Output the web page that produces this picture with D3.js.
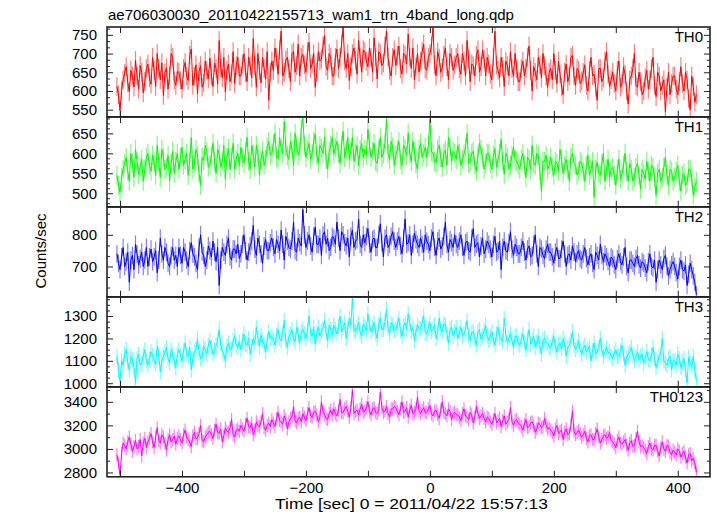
<!DOCTYPE html>
<html><head><meta charset="utf-8">
<script src="https://cdn.jsdelivr.net/npm/d3@7"></script>
<style>body{margin:0;background:#fff} text{font-family:"Liberation Sans",Arial,Helvetica,sans-serif}</style>
</head><body><svg id="c" width="717" height="516"></svg>
<script>
const chartTitle = "ae706030030_20110422155713_wam1_trn_4band_long.qdp";
const xTitle = "Time [sec] 0 = 2011/04/22 15:57:13";
const yTitle = "Counts/sec";
const panelLabels = ["TH0", "TH1", "TH2", "TH3", "TH0123"];
const colors = ["#ff0000", "#00ff00", "#0000ff", "#00ffff", "#ff00ff"];
const tStart = -505, tStep = 2.5;

const th0 = [612,590,548,601,630,648,665,622,598,655,640,610,682,640,605,668,650,595,625,660,
672,635,618,690,655,612,700,660,630,675,588,648,662,605,641,700,690,628,615,652,
650,628,605,660,676,640,628,695,712,615,640,670,593,652,668,610,622,680,655,632,
688,640,612,675,660,618,735,662,635,690,598,655,672,625,645,705,620,668,690,640,
640,672,700,650,625,690,668,635,740,668,610,700,655,622,690,660,632,705,575,650,
680,655,715,690,645,710,760,640,650,682,690,660,625,700,705,650,668,725,640,690,
698,670,650,705,730,660,672,700,610,650,705,680,685,720,748,665,655,700,690,640,
640,690,712,660,690,725,770,680,660,700,628,665,700,715,682,645,735,690,650,710,
705,680,665,715,690,650,742,690,632,705,700,668,675,720,760,690,655,640,690,710,
668,695,720,660,645,700,695,672,752,690,660,715,630,665,700,650,680,705,725,660,
655,690,700,720,770,670,640,705,688,650,662,695,715,665,630,700,690,655,670,690,
700,660,645,700,680,640,735,685,625,672,668,640,695,710,650,665,710,685,640,690,
672,645,630,690,760,670,655,635,690,665,612,680,668,640,705,660,640,700,660,625,
625,660,680,640,660,690,720,655,600,665,650,630,690,670,635,700,668,640,610,650,
660,630,700,655,620,680,645,610,590,650,672,625,640,690,695,640,615,660,655,620,
628,650,670,615,600,655,690,640,645,610,575,660,660,625,635,680,705,645,612,630,
650,620,600,655,680,610,620,665,645,600,565,630,640,660,700,615,610,650,625,590,
600,635,655,605,630,660,690,615,585,650,640,600,615,630,545,610,650,590,620,640,
640,605,590,625,665,620,600,650,630,580,550,640,612,570,590];

const th1 = [545,520,502,540,560,575,590,555,530,600,575,540,610,580,548,565,585,530,560,590,
600,570,555,595,578,545,620,580,540,610,590,560,565,595,530,575,605,550,580,600,
560,590,615,570,585,600,545,580,640,560,575,610,595,550,520,590,582,620,605,565,
570,595,625,580,550,610,598,565,580,620,535,590,612,560,590,625,560,585,600,570,
615,590,575,605,640,580,560,620,598,565,620,600,545,585,605,570,585,615,630,595,
600,625,650,590,585,640,612,600,680,615,595,585,630,610,570,650,620,595,605,660,
690,620,590,610,625,585,600,630,648,595,575,620,612,600,640,585,560,605,620,640,
598,615,630,600,575,620,655,590,610,640,585,605,640,580,600,620,570,610,625,590,
610,595,660,620,590,605,625,580,575,610,640,590,600,625,685,600,585,630,615,570,
595,610,630,585,570,620,612,595,650,600,580,630,605,575,560,610,625,590,600,615,
590,620,685,605,600,580,575,610,620,590,565,600,608,570,640,615,580,605,600,585,
620,600,570,585,598,615,650,575,580,600,605,570,555,595,625,610,590,560,575,600,
600,575,560,595,612,565,585,600,635,580,548,600,590,560,570,595,615,585,580,570,
560,585,600,570,540,590,585,560,620,575,570,600,595,555,505,580,580,595,560,570,
590,565,545,580,575,555,610,585,550,570,585,560,530,590,600,575,570,545,555,580,
575,555,530,570,595,545,560,580,490,560,578,550,545,575,600,530,560,585,540,560,
565,545,520,560,585,535,550,570,600,555,530,575,560,530,540,565,575,545,510,560,
550,535,580,555,530,570,565,540,495,550,560,530,540,565,590,545,520,560,555,530,
540,555,570,530,505,545,550,520,525,560,560,540,495,515,530];

const th2 = [740,710,690,730,760,700,715,745,650,720,735,690,770,740,705,725,745,700,720,760,
700,730,755,715,730,750,680,720,790,740,720,760,745,710,700,735,760,720,735,700,
760,735,710,760,745,720,700,750,775,740,730,710,690,760,800,745,735,700,720,765,
750,730,780,745,715,760,640,720,760,745,735,770,790,730,720,755,755,740,770,725,
740,770,800,750,720,745,765,780,830,755,735,790,770,740,710,765,785,750,750,775,
790,760,740,785,770,750,815,770,720,795,780,760,755,780,840,750,745,790,775,765,
880,800,760,780,800,765,745,795,825,770,770,790,735,800,810,770,790,750,760,795,
790,770,840,790,750,810,800,775,765,790,730,795,815,760,780,785,850,770,760,800,
775,795,820,770,745,785,790,760,760,800,835,775,730,790,800,760,770,795,810,780,
760,780,795,765,740,790,850,770,775,800,735,770,805,785,770,760,790,770,745,800,
780,770,750,790,810,760,735,780,790,755,765,795,840,770,745,785,775,760,800,770,
760,780,800,760,735,775,780,750,745,790,820,760,770,775,730,765,790,740,755,780,
770,755,730,770,795,745,750,780,690,760,780,750,745,775,810,755,735,770,760,740,
740,760,780,745,720,755,765,730,735,770,800,740,700,760,755,735,725,755,770,745,
745,730,710,745,760,725,725,755,780,740,700,735,740,720,765,745,715,740,750,725,
720,740,760,725,705,730,740,710,690,745,735,720,770,735,715,740,730,715,700,730,
725,705,690,725,740,715,705,730,760,700,680,720,720,710,700,725,735,705,695,715,
710,695,680,715,740,700,695,720,650,690,720,705,690,725,735,700,670,690,705,715,
700,680,660,700,720,690,685,705,640,675,710,690,670,650,610];

const th3 = [1120,1060,1010,1100,1080,1130,1150,1090,1060,1120,1105,1070,1000,1110,1130,1080,1090,1125,1150,1100,
1080,1110,1140,1125,1100,1085,1165,1130,1050,1100,1120,1140,1160,1110,1090,1150,1130,1100,1070,1130,
1150,1125,1100,1145,1180,1130,1120,1160,1060,1110,1140,1150,1200,1140,1110,1120,1165,1150,1130,1170,
1190,1160,1130,1150,1170,1190,1240,1175,1145,1130,1100,1165,1180,1150,1150,1190,1210,1170,1160,1185,
1150,1190,1220,1175,1170,1200,1130,1165,1200,1180,1250,1200,1165,1215,1190,1170,1140,1190,1230,1200,
1210,1195,1170,1215,1240,1200,1190,1225,1280,1190,1160,1210,1220,1240,1200,1185,1250,1215,1180,1230,
1240,1220,1200,1235,1300,1215,1210,1250,1175,1225,1250,1210,1230,1245,1280,1225,1190,1260,1240,1215,
1260,1240,1220,1255,1300,1230,1250,1270,1200,1245,1290,1260,1380,1235,1230,1250,1270,1225,1210,1265,
1250,1235,1310,1260,1230,1250,1270,1225,1200,1265,1290,1240,1240,1275,1330,1245,1220,1270,1260,1235,
1240,1265,1290,1235,1210,1255,1270,1240,1310,1270,1230,1250,1190,1230,1260,1245,1240,1270,1300,1225,
1220,1245,1270,1230,1240,1260,1200,1225,1290,1245,1230,1265,1260,1220,1180,1240,1250,1210,1230,1250,
1200,1225,1250,1210,1220,1240,1280,1215,1190,1225,1230,1200,1170,1230,1240,1195,1210,1235,1260,1210,
1190,1210,1230,1195,1170,1220,1250,1205,1200,1185,1290,1215,1180,1200,1220,1190,1160,1210,1210,1180,
1170,1195,1220,1180,1150,1200,1240,1175,1190,1210,1160,1185,1210,1165,1130,1195,1200,1180,1180,1160,
1160,1185,1210,1165,1140,1175,1180,1155,1200,1180,1120,1160,1170,1190,1230,1170,1150,1165,1190,1150,
1130,1155,1170,1140,1150,1165,1100,1145,1180,1130,1140,1160,1200,1150,1120,1140,1160,1135,1140,1120,
1110,1135,1150,1120,1120,1145,1170,1130,1080,1115,1130,1140,1160,1125,1100,1120,1140,1105,1120,1130,
1090,1115,1140,1105,1100,1125,1160,1110,1070,1095,1120,1130,1200,1100,1090,1080,1110,1120,1060,1100,
1100,1080,1130,1110,1070,1095,1110,1060,1000,1115,1090,1075,1120,1060,1010];

const th0123 = [2950,2880,2780,2960,3050,3030,3000,3060,3100,3040,2980,3020,3070,3000,3020,3080,2940,3050,3090,3010,
3060,3090,3130,3060,3010,3100,3180,3070,3050,3120,3100,3050,2990,3080,3120,3060,3080,3110,3040,3090,
3110,3080,3050,3120,3160,3100,3080,3060,3020,3110,3140,3085,3090,3130,3200,3070,3060,3100,3120,3140,
3150,3120,3090,3160,3210,3140,3130,3170,3060,3110,3180,3150,3140,3180,3250,3120,3100,3160,3170,3150,
3200,3170,3150,3210,3260,3190,3180,3220,3120,3160,3230,3200,3190,3230,3300,3180,3160,3200,3220,3190,
3250,3220,3190,3260,3310,3240,3230,3210,3280,3250,3170,3230,3260,3270,3360,3240,3220,3260,3270,3230,
3300,3270,3240,3300,3350,3280,3270,3310,3320,3290,3230,3270,3400,3320,3290,3260,3250,3300,3330,3290,
3340,3300,3280,3330,3420,3310,3310,3340,3360,3320,3270,3350,3500,3300,3320,3330,3290,3340,3380,3310,
3320,3350,3400,3320,3290,3340,3350,3310,3300,3330,3480,3350,3310,3320,3360,3300,3270,3340,3340,3360,
3350,3320,3290,3340,3400,3310,3320,3350,3270,3330,3370,3300,3310,3340,3440,3320,3300,3330,3350,3310,
3310,3340,3370,3300,3280,3320,3330,3290,3260,3330,3400,3310,3300,3280,3340,3320,3250,3300,3310,3290,
3290,3270,3240,3300,3340,3280,3270,3250,3310,3290,3220,3270,3360,3300,3260,3280,3300,3260,3230,3270,
3260,3230,3210,3250,3300,3220,3240,3260,3190,3240,3280,3210,3230,3250,3350,3230,3200,3240,3250,3220,
3210,3190,3160,3210,3250,3180,3190,3220,3230,3200,3140,3170,3220,3210,3180,3190,3260,3200,3170,3180,
3160,3140,3110,3170,3200,3130,3150,3160,3080,3140,3170,3120,3130,3200,3320,3150,3120,3140,3160,3130,
3100,3120,3150,3090,3060,3110,3120,3080,3080,3130,3170,3100,3050,3080,3110,3120,3090,3100,3140,3070,
3060,3040,3010,3070,3100,3050,3040,3060,3080,3030,2990,3050,3070,3020,3030,3090,3150,3060,3020,3030,
3010,2990,2960,3020,3050,3000,2990,3030,3030,2980,2940,3010,3060,3000,2980,3030,3020,2970,2950,2990,
2970,2950,3000,2980,2930,2960,2980,2930,2880,2950,2960,2900,2920,2880,2800];

const seriesErrors = [25, 24, 28, 34, 56];
const yDomains = [[531,771],[466,691],[604,888],[984,1385],[2763,3526]];
const yTickValues = [[550,600,650,700,750],[500,550,600,650],[700,800],[1000,1100,1200,1300],[2800,3000,3200,3400]];
const yMinorSteps = [50/3, 12.5, 100/3, 25, 100];
const xTickValues = [-500,-400,-300,-200,-100,0,100,200,300,400];
const xTickLabels = [-400,-200,0,200,400];
const seriesList = [th0, th1, th2, th3, th0123];

const svg = d3.select("#c");
const left = 107, right = 710;
const panelTops = [27, 117, 207, 297, 387];
const panelH = 89.8;

const x = d3.scaleLinear().domain([-521, 452]).range([left, right]);

svg.append("text").attr("x", 108).attr("y", 20).attr("font-size", 15).text(chartTitle);

const defs = svg.append("defs");

seriesList.forEach((vals, p) => {
  const top = panelTops[p], bot = top + panelH;
  const y = d3.scaleLinear().domain(yDomains[p]).range([bot, top]);
  const data = vals.map((v, i) => ({t: tStart + i * tStep, v}));
  const err = seriesErrors[p];

  defs.append("clipPath").attr("id", "clip" + p).append("rect")
    .attr("x", left).attr("y", top).attr("width", right - left).attr("height", panelH);

  const g = svg.append("g").attr("clip-path", `url(#clip${p})`);
  g.append("path")
    .attr("d", data.map(d => `M${x(d.t)},${y(d.v - err)}V${y(d.v + err)}`).join(""))
    .attr("stroke", colors[p]).attr("stroke-opacity", 0.5).attr("stroke-width", 1.2).attr("fill", "none");
  g.append("path").datum(data)
    .attr("d", d3.line().x(d => x(d.t)).y(d => y(d.v)))
    .attr("stroke", colors[p]).attr("stroke-width", 1).attr("fill", "none");

  const [d0, d1] = yDomains[p];
  const ms = yMinorSteps[p];
  const minors = [];
  for (let k = Math.ceil(d0 / ms); k * ms <= d1; k++) {
    const v = k * ms;
    if (!yTickValues[p].some(m => Math.abs(m - v) < 1e-6)) minors.push(v);
  }
  const styleAxis = sel => {
    sel.select(".domain").remove();
    sel.selectAll("line").attr("stroke", "#222").attr("stroke-width", 1);
    sel.selectAll("text").attr("font-size", 15).attr("fill", "#000")
      .attr("font-family", '"Liberation Sans",Arial,sans-serif');
  };
  svg.append("g").attr("transform", `translate(${left},0)`)
    .call(d3.axisLeft(y).tickValues(yTickValues[p]).tickSize(-6).tickPadding(10).tickFormat(d3.format("d"))).call(styleAxis);
  svg.append("g").attr("transform", `translate(${left},0)`)
    .call(d3.axisLeft(y).tickValues(minors).tickSize(-3).tickFormat("")).call(styleAxis);
  svg.append("g").attr("transform", `translate(${right},0)`)
    .call(d3.axisRight(y).tickValues(yTickValues[p]).tickSize(-6).tickFormat("")).call(styleAxis);
  svg.append("g").attr("transform", `translate(${right},0)`)
    .call(d3.axisRight(y).tickValues(minors).tickSize(-3).tickFormat("")).call(styleAxis);
  svg.append("g").attr("transform", `translate(0,${top})`)
    .call(d3.axisTop(x).tickValues(xTickValues).tickSize(-6).tickFormat("")).call(styleAxis);
  const isLast = p === seriesList.length - 1;
  svg.append("g").attr("transform", `translate(0,${bot})`)
    .call(d3.axisBottom(x).tickValues(xTickValues).tickSize(-6).tickPadding(6)
      .tickFormat(v => (isLast && xTickLabels.includes(v)) ? d3.format("d")(v) : ""))
    .call(styleAxis);

  svg.append("rect").attr("x", left).attr("y", top).attr("width", right - left).attr("height", panelH)
    .attr("fill", "none").attr("stroke", "#222").attr("stroke-width", 1.6);

  svg.append("text").attr("x", right - 7).attr("y", top + 15).attr("text-anchor", "end")
    .attr("font-size", 15).text(panelLabels[p]);
});

svg.append("text").attr("x", 275).attr("y", 509)
  .attr("font-size", 14.5).attr("textLength", 273).attr("lengthAdjust", "spacingAndGlyphs").text(xTitle);
svg.append("text").attr("transform", `translate(46,251) rotate(-90)`).attr("text-anchor", "middle")
  .attr("font-size", 15).text(yTitle);
</script></body></html>
